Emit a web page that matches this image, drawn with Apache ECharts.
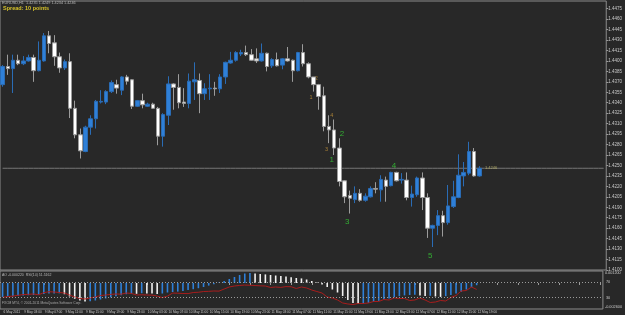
<!DOCTYPE html>
<html>
<head>
<meta charset="utf-8">
<script src="https://cdn.jsdelivr.net/npm/echarts@6/dist/echarts.min.js"></script>
<style>
  html, body { margin: 0; padding: 0; background: #282828; }
  #chart { width: 625px; height: 315px; }
</style>
</head>
<body>
<div id="chart"></div>
<script>
// time labels, one every 4 bars (H1)
const tickLabels = ['6 May 2011', '9 May 03:00', '9 May 07:00', '9 May 11:00', '9 May 15:00', '9 May 19:00',
  '9 May 23:00', '10 May 03:00', '10 May 07:00', '10 May 11:00', '10 May 15:00', '10 May 19:00',
  '10 May 23:00', '11 May 03:00', '11 May 07:00', '11 May 11:00', '11 May 15:00', '11 May 19:00',
  '11 May 23:00', '12 May 03:00', '12 May 07:00', '12 May 11:00', '12 May 15:00', '12 May 19:00'];

// EURUSD H1 bars: [open, close, low, high]
const candles = [
  [1.4366, 1.4392, 1.4363, 1.4394], [1.4392, 1.4389, 1.4380, 1.4409], [1.4389, 1.4401, 1.4354, 1.4409],
  [1.4401, 1.4396, 1.4394, 1.4409], [1.4396, 1.4400, 1.4394, 1.4407], [1.4400, 1.4405, 1.4399, 1.4409],
  [1.4405, 1.4386, 1.4370, 1.4409], [1.4386, 1.4401, 1.4385, 1.4428], [1.4400, 1.4436, 1.4399, 1.4440],
  [1.4436, 1.4425, 1.4411, 1.4443], [1.4426, 1.4406, 1.4393, 1.4437], [1.4406, 1.4390, 1.4383, 1.4412],
  [1.4390, 1.4399, 1.4387, 1.4402], [1.4399, 1.4332, 1.4318, 1.4411], [1.4332, 1.4294, 1.4289, 1.4343],
  [1.4294, 1.4271, 1.4260, 1.4303], [1.4270, 1.4305, 1.4269, 1.4307], [1.4305, 1.4317, 1.4294, 1.4322],
  [1.4317, 1.4342, 1.4303, 1.4344], [1.4341, 1.4342, 1.4339, 1.4358], [1.4341, 1.4356, 1.4338, 1.4358],
  [1.4356, 1.4369, 1.4354, 1.4372], [1.4366, 1.4361, 1.4353, 1.4373], [1.4358, 1.4377, 1.4351, 1.4378],
  [1.4377, 1.4371, 1.4366, 1.4380], [1.4373, 1.4335, 1.4331, 1.4374], [1.4335, 1.4343, 1.4334, 1.4344],
  [1.4343, 1.4337, 1.4332, 1.4353], [1.4335, 1.4338, 1.4334, 1.4340], [1.4338, 1.4332, 1.4331, 1.4340],
  [1.4332, 1.4292, 1.4279, 1.4334], [1.4292, 1.4323, 1.4277, 1.4325], [1.4322, 1.4367, 1.4308, 1.4378],
  [1.4367, 1.4362, 1.4330, 1.4368], [1.4362, 1.4340, 1.4332, 1.4381], [1.4341, 1.4339, 1.4334, 1.4361],
  [1.4339, 1.4371, 1.4332, 1.4382], [1.4370, 1.4373, 1.4344, 1.4398], [1.4372, 1.4353, 1.4325, 1.4382],
  [1.4353, 1.4360, 1.4344, 1.4368], [1.4360, 1.4361, 1.4344, 1.4381], [1.4361, 1.4360, 1.4350, 1.4370],
  [1.4360, 1.4377, 1.4354, 1.4381], [1.4377, 1.4398, 1.4367, 1.4399], [1.4397, 1.4401, 1.4396, 1.4413],
  [1.4401, 1.4412, 1.4399, 1.4414], [1.4410, 1.4412, 1.4407, 1.4416], [1.4412, 1.4409, 1.4407, 1.4422],
  [1.4409, 1.4401, 1.4400, 1.4417], [1.4403, 1.4400, 1.4397, 1.4418], [1.4400, 1.4411, 1.4399, 1.4425],
  [1.4411, 1.4392, 1.4385, 1.4412], [1.4393, 1.4402, 1.4390, 1.4404], [1.4402, 1.4393, 1.4392, 1.4412],
  [1.4394, 1.4403, 1.4388, 1.4404], [1.4403, 1.4400, 1.4399, 1.4420], [1.4401, 1.4386, 1.4370, 1.4402],
  [1.4386, 1.4412, 1.4385, 1.4413], [1.4412, 1.4396, 1.4392, 1.4424], [1.4396, 1.4377, 1.4375, 1.4398],
  [1.4377, 1.4366, 1.4356, 1.4377], [1.4366, 1.4349, 1.4330, 1.4367], [1.4350, 1.4306, 1.4299, 1.4363],
  [1.4306, 1.4301, 1.4282, 1.4322], [1.4301, 1.4275, 1.4265, 1.4316], [1.4275, 1.4227, 1.4220, 1.4289],
  [1.4228, 1.4205, 1.4196, 1.4229], [1.4207, 1.4203, 1.4181, 1.4214], [1.4201, 1.4210, 1.4196, 1.4220],
  [1.4210, 1.4200, 1.4198, 1.4216], [1.4200, 1.4206, 1.4198, 1.4210], [1.4205, 1.4217, 1.4204, 1.4220],
  [1.4217, 1.4216, 1.4210, 1.4226], [1.4215, 1.4230, 1.4198, 1.4236], [1.4229, 1.4220, 1.4198, 1.4234],
  [1.4221, 1.4240, 1.4220, 1.4241], [1.4240, 1.4228, 1.4227, 1.4241], [1.4229, 1.4230, 1.4224, 1.4239],
  [1.4229, 1.4204, 1.4200, 1.4240], [1.4204, 1.4209, 1.4191, 1.4221], [1.4208, 1.4232, 1.4205, 1.4234],
  [1.4232, 1.4204, 1.4186, 1.4240], [1.4204, 1.4160, 1.4146, 1.4210], [1.4160, 1.4164, 1.4133, 1.4165],
  [1.4164, 1.4178, 1.4150, 1.4186], [1.4178, 1.4168, 1.4148, 1.4185], [1.4168, 1.4192, 1.4165, 1.4222],
  [1.4191, 1.4205, 1.4189, 1.4228], [1.4204, 1.4236, 1.4203, 1.4266], [1.4235, 1.4240, 1.4220, 1.4255],
  [1.4239, 1.4270, 1.4236, 1.4284], [1.4270, 1.4235, 1.4234, 1.4275], [1.4235, 1.4246, 1.4234, 1.4249]
];

// Awesome Oscillator histogram
const aoValues = [
  -0.00140, -0.00136, -0.00132, -0.00129, -0.00126, -0.00122, -0.00120, -0.00116, -0.00110, -0.00106,
  -0.00104, -0.00103, -0.00112, -0.00135, -0.00158, -0.00176, -0.00186, -0.00183, -0.00175, -0.00165,
  -0.00155, -0.00144, -0.00132, -0.00123, -0.00112, -0.00106, -0.00108, -0.00102, -0.00104, -0.00106,
  -0.00110, -0.00105, -0.00095, -0.00090, -0.00086, -0.00080, -0.00070, -0.00062, -0.00052, -0.00040,
  -0.00026, -0.00012, 0.00004, 0.00020, 0.00040, 0.00060, 0.00080, 0.00095, 0.00100, 0.00096,
  0.00090, 0.00086, 0.00080, 0.00075, 0.00070, 0.00064, 0.00058, 0.00050, 0.00046, 0.00035,
  0.00020, 0.00005, -0.00015, -0.00040, -0.00065, -0.00095, -0.00130, -0.00170, -0.00200, -0.00210,
  -0.00205, -0.00198, -0.00188, -0.00178, -0.00166, -0.00154, -0.00142, -0.00132, -0.00124, -0.00120,
  -0.00118, -0.00124, -0.00130, -0.00128, -0.00135, -0.00139, -0.00132, -0.00120, -0.00106, -0.00088,
  -0.00065, -0.00042, -0.00022
];

// RSI(14)
const rsiValues = [
  30.8, 32.5, 34, 36, 38, 38.5, 39.5, 37.5, 43, 45.5, 44.7, 43.5, 42, 36.8, 31.6, 27.6, 26.3, 29, 31.6, 35.5,
  36.8, 38.5, 39.5, 39, 42, 41, 36.8, 37.5, 36.8, 36.5, 34, 30, 34, 42, 41.5, 40.8, 40.5, 43.4, 44, 46,
  46.5, 47.4, 47, 52.6, 57.9, 60.5, 62, 63, 62.5, 61.8, 61, 60.5, 56.6, 57.9, 56.8, 59, 58.5, 54, 57.9, 55.3,
  50, 46, 42, 31.6, 29, 23.7, 15.8, 13.2, 11.8, 14.5, 14.5, 15.8, 19.7, 19.7, 25, 23.7, 29, 27.6, 27.6, 22.4,
  23.7, 29, 23.7, 17.1, 18.4, 22.4, 21, 30.3, 35.5, 47.4, 48.7, 57.9, 51.5
];
const rsiLevels = [70, 30];

const lastPrice = 1.4246;

// wave marks (green) and sub-wave marks (orange)
const waveText = ['1', '2', '3', '4', '5'];
const waveBar = [64, 66, 67, 76, 83];
const wavePrice = [1.4258, 1.4296, 1.4169, 1.4249, 1.4121];
const subText = ['1', '2', '3', '4'];
const subBar = [60, 61, 63, 64];
const subPrice = [1.4348, 1.4375, 1.4273, 1.4322];

const totalSlots = 117; // bars plus the empty shift area on the right
const categories = [];
for (let i = 0; i < totalSlots; i++) categories.push(String(i));

const BLUE = '#2f80d8';
const WHITE = '#f2f2f2';
const TXT = '#c8c8c8';
const CLEAR = 'rgba(0,0,0,0)';

const chart = echarts.init(document.getElementById('chart'), null, { renderer: 'canvas' });

const aoData = aoValues.map((v, i) => ({
  value: v,
  itemStyle: { color: (i > 0 && v < aoValues[i - 1]) ? WHITE : BLUE }
}));

const markSeries = (texts, bars, prices, color, size) => ({
  type: 'scatter',
  xAxisIndex: 0,
  yAxisIndex: 0,
  symbolSize: 1,
  itemStyle: { color: CLEAR },
  silent: true,
  label: {
    show: true,
    position: 'inside',
    offset: [-2.5, 0],
    formatter: p => p.name,
    color: color,
    fontSize: size,
    fontFamily: 'Liberation Sans'
  },
  data: texts.map((t, k) => ({ name: t, value: [bars[k], prices[k]] }))
});

const option = {
  backgroundColor: '#282828',
  animation: false,
  grid: [
    { left: -1, right: 13, top: 1, height: 269, show: true, borderColor: '#8c8c8c', borderWidth: 1 },
    { left: -1, right: 13, top: 271, height: 38, show: true, borderColor: '#8c8c8c', borderWidth: 1 }
  ],
  xAxis: [
    {
      type: 'category', gridIndex: 0, data: categories, boundaryGap: true,
      axisLine: { show: false }, axisTick: { show: false }, axisLabel: { show: false }
    },
    {
      type: 'category', gridIndex: 1, data: categories, boundaryGap: true,
      axisLine: { show: false },
      axisTick: { show: true, interval: 3, alignWithLabel: true, length: 2, lineStyle: { color: '#9a9a9a' } },
      axisLabel: {
        interval: 3, margin: 1.5, align: 'left', color: TXT, fontSize: 3.2, fontFamily: 'Liberation Sans',
        padding: [0, 0, 0, 1],
        formatter: (v, idx) => (idx % 4 === 0 && tickLabels[idx / 4]) ? tickLabels[idx / 4] : ''
      }
    }
  ],
  yAxis: [
    {
      type: 'value', gridIndex: 0, position: 'right', min: 1.41, max: 1.4486, interval: 0.0015,
      splitLine: { show: false },
      axisLine: { show: false },
      axisTick: { show: true, length: 2, lineStyle: { color: '#9a9a9a' } },
      axisLabel: {
        color: TXT, fontSize: 4.5, margin: 2, fontFamily: 'Liberation Sans', showMaxLabel: false,
        formatter: v => v.toFixed(4)
      }
    },
    {
      type: 'value', gridIndex: 1, position: 'right', min: -0.0026, max: 0.0012,
      splitLine: { show: false }, axisLine: { show: false }, axisTick: { show: false },
      axisLabel: {
        customValues: [-0.0026, 0.0012], color: TXT, fontSize: 3.8, margin: 2, fontFamily: 'Liberation Sans',
        verticalAlignMaxLabel: 'top', verticalAlignMinLabel: 'bottom',
        formatter: v => v.toFixed(6)
      }
    },
    { type: 'value', gridIndex: 1, min: 0, max: 100, show: false }
  ],
  graphic: [
    { type: 'text', left: 2, top: 1, style: { text: 'EURUSD,H1  1.4235 1.4249 1.4234 1.4246', fill: '#b8b8b8', fontSize: 3.8, fontFamily: 'Liberation Sans' } },
    { type: 'text', left: 3, top: 5, style: { text: 'Spread: 10 points', fill: '#d6c22a', fontSize: 5.5, fontWeight: 'bold', fontFamily: 'Liberation Sans' } },
    { type: 'text', left: 2, top: 273, style: { text: 'AO -0.000220  RSI(14) 51.5162', fill: '#b8b8b8', fontSize: 3.5, fontFamily: 'Liberation Sans' } },
    { type: 'text', left: 2, top: 302, style: { text: 'FXCM MT4, \u00a9 2001-2011 MetaQuotes Software Corp.', fill: '#a8a8a8', fontSize: 3.3, fontFamily: 'Liberation Sans' } }
  ],
  series: [
    {
      // current bid line, across the whole window
      type: 'line', xAxisIndex: 0, yAxisIndex: 0, symbol: 'none', silent: true, z: 1,
      lineStyle: { color: '#767676', width: 1 },
      data: categories.map(() => lastPrice)
    },
    {
      type: 'candlestick',
      xAxisIndex: 0, yAxisIndex: 0,
      barWidth: 4,
      z: 3,
      data: candles,
      itemStyle: {
        color: BLUE, color0: '#ffffff',
        borderColor: '#2a6cb5', borderColor0: '#9c9c9c', borderWidth: 1
      }
    },
    markSeries(waveText, waveBar, wavePrice, '#36cc36', 8),
    markSeries(subText, subBar, subPrice, '#c8963a', 5.5),
    {
      type: 'scatter', xAxisIndex: 0, yAxisIndex: 0, symbolSize: 1, itemStyle: { color: CLEAR }, silent: true,
      label: { show: true, position: 'right', distance: 0, formatter: p => p.value[1].toFixed(4), color: '#c8c070', fontSize: 4, fontFamily: 'Liberation Sans' },
      data: [[candles.length, lastPrice]]
    },
    {
      type: 'bar', xAxisIndex: 1, yAxisIndex: 1,
      barWidth: 1.6,
      data: aoData
    },
    {
      type: 'line', xAxisIndex: 1, yAxisIndex: 2,
      data: rsiValues, symbol: 'none',
      lineStyle: { color: '#a81c1c', width: 1 },
      markLine: {
        silent: true, symbol: ['none', 'none'],
        lineStyle: { color: '#9a9a9a', type: [1, 2], width: 1 },
        label: { show: true, position: 'end', distance: 3, formatter: '{c}', color: TXT, fontSize: 3.8, fontFamily: 'Liberation Sans' },
        data: rsiLevels.map(v => ({ yAxis: v }))
      }
    }
  ]
};

chart.setOption(option);
</script>
</body>
</html>
